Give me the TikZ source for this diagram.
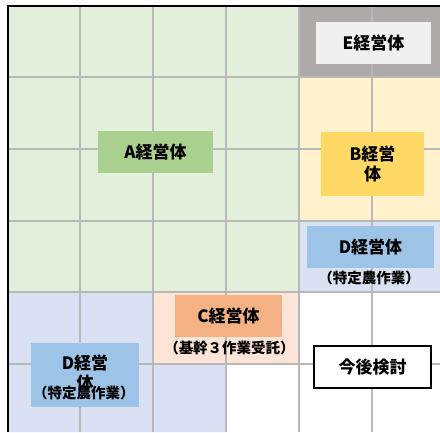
\documentclass[tikz,border=0pt]{standalone}
\usepackage{fontspec}
\setmainfont{Noto Sans CJK JP}
\definecolor{bgA}{HTML}{E2EFDA}
\definecolor{boxA}{HTML}{A9D08E}
\definecolor{bgE}{HTML}{AEAAAA}
\definecolor{boxE}{HTML}{F0F0F0}
\definecolor{bgB}{HTML}{FFF2CC}
\definecolor{boxB}{HTML}{FFD966}
\definecolor{bgD}{HTML}{DAE1F2}
\definecolor{boxD}{HTML}{9DC3E6}
\definecolor{bgC}{HTML}{FCE4D6}
\definecolor{boxC}{HTML}{F4B183}
\definecolor{gridc}{HTML}{B8B8B8}
\begin{document}
\begin{tikzpicture}[x=1pt,y=-1pt,
  gridline/.style={draw=gridc,line width=1.8pt},
  lab/.style={inner sep=0pt,align=center,font=\fontsize{17}{20}\selectfont\bfseries},
  sub/.style={inner sep=0pt,font=\fontsize{14.5}{16}\selectfont\bfseries},
]
\useasboundingbox (0,0) rectangle (440,432);
\fill[white] (0,0) rectangle (440,432);
% background regions
\fill[bgA] (8,6) rectangle (299,292);
\fill[bgE] (299,6) rectangle (440,77);
\fill[bgB] (299,77) rectangle (440,221);
\fill[bgD] (299,221) rectangle (440,292);
\fill[bgC] (153,292) rectangle (299,364);
\fill[bgD] (8,292) -- (153,292) -- (153,364) -- (226,364) -- (226,432) -- (8,432) -- cycle;
% grid
\foreach \gx in {80,153,226,299,372} \draw[gridline] (\gx,6) -- (\gx,432);
\foreach \gy in {77,149,221,292,364} \draw[gridline] (8,\gy) -- (440,\gy);
% border
\draw[black,line width=2pt] (8,432) -- (8,6) -- (440,6);
% boxes
\fill[boxA] (98,131) rectangle (213,173);
\node[lab] (A) at (155.5,152) {A経営体};
\fill[boxE] (316,22) rectangle (431,64);
\node[lab] (E) at (373.5,43) {E経営体};
\fill[boxB] (321,132) rectangle (424,196);
\node[lab] (B) at (372.5,164) {B経営\\体};
\fill[boxD] (307,226) rectangle (434,268);
\node[lab] (D1) at (370.5,247) {D経営体};
\node[sub] (D1s) at (369,278) {（特定農作業）};
\fill[boxC] (175,295) rectangle (282,337);
\node[lab] (C) at (228.5,316) {C経営体};
\node[sub] (Cs) at (229.5,348) {（基幹３作業受託）};
\fill[boxD] (31,343) rectangle (139,407);
\node[lab] (D2) at (85,373) {D経営\\体};
\node[sub] (D2s) at (84,393) {（特定農作業）};
\draw[black,line width=1.5pt,fill=white] (314,346) rectangle (431,388);
\node[lab] (K) at (372.5,367) {今後検討};
\end{tikzpicture}
\end{document}
